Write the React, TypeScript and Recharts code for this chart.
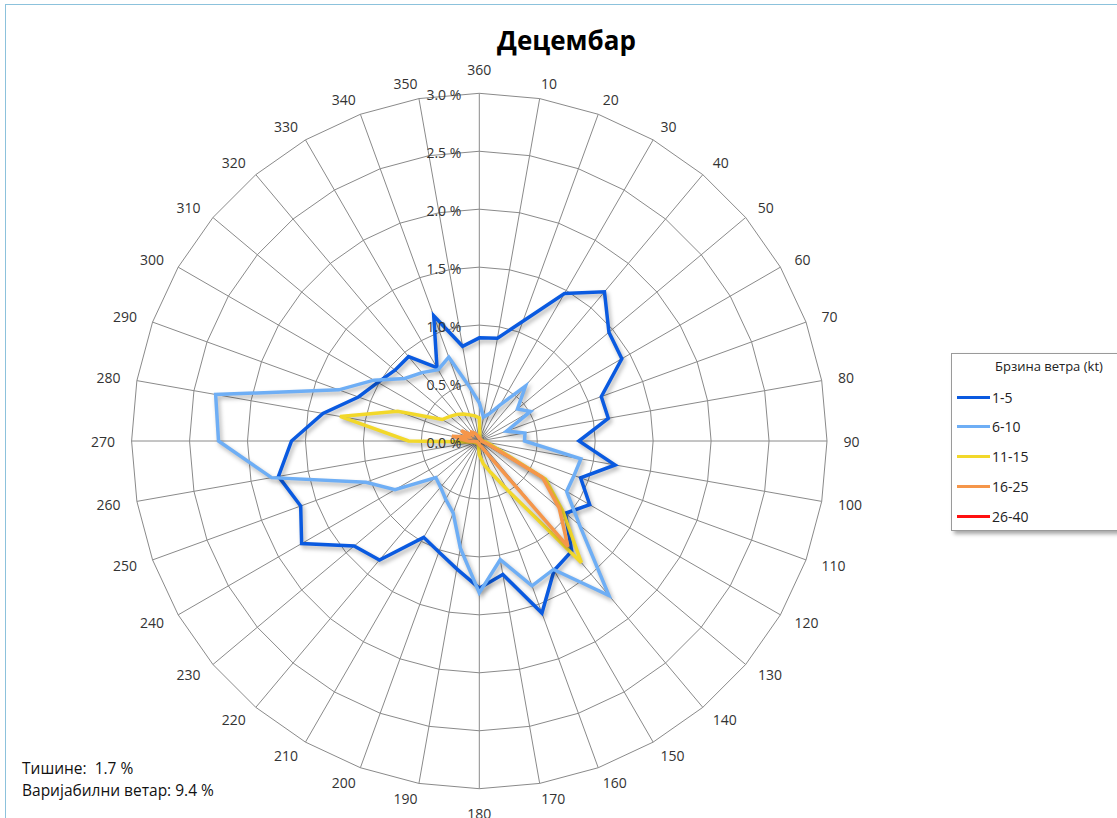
import React from "react";
import { RadarChart, Radar, PolarGrid, PolarAngleAxis, PolarRadiusAxis } from "recharts";

// wind directions, clockwise from north
const directions = [
  "360", "10", "20", "30", "40", "50", "60", "70", "80",
  "90", "100", "110", "120", "130", "140", "150", "160", "170",
  "180", "190", "200", "210", "220", "230", "240", "250", "260",
  "270", "280", "290", "300", "310", "320", "330", "340", "350",
];

// % of observations per direction for each speed class (kt)
const speed1to5 = [
  0.89, 0.9, 1.1, 1.47, 1.68, 1.46, 1.42, 1.12, 1.13,
  0.86, 1.19, 0.93, 1.1, 0.97, 1.24, 1.29, 1.58, 1.17,
  1.27, 1.12, 1.02, 0.96, 1.34, 1.41, 1.77, 1.64, 1.76,
  1.62, 1.37, 1.11, 1.01, 0.95, 0.95, 0.73, 1.15, 0.83,
];
const speed6to10 = [
  0.33, 0.21, 0.25, 0.36, 0.62, 0.43, 0.51, 0.25, 0.4,
  0.39, 0.89, 0.87, 0.87, 1.13, 1.74, 1.28, 1.33, 1.04,
  1.31, 0.94, 0.66, 0.58, 0.52, 0.49, 0.84, 1.04, 1.82,
  2.25, 2.31, 1.29, 1.05, 0.84, 0.77, 0.71, 0.77, 0.47,
];
const speed11to15 = [
  0.2, 0.03, 0.02, 0.02, 0.02, 0.02, 0.02, 0.02, 0.02,
  0.03, 0.06, 0.12, 0.66, 0.94, 1.37, 0.49, 0.29, 0.2,
  0.12, 0.04, 0.03, 0.03, 0.03, 0.03, 0.03, 0.04, 0.05,
  0.61, 1.22, 0.75, 0.37, 0.33, 0.3, 0.27, 0.24, 0.22,
];
const speed16to25 = [
  0.03, 0.02, 0.02, 0.02, 0.02, 0.02, 0.02, 0.02, 0.02,
  0.02, 0.03, 0.08, 0.63, 0.9, 1.19, 0.1, 0.05, 0.04,
  0.03, 0.02, 0.02, 0.02, 0.02, 0.02, 0.02, 0.02, 0.03,
  0.1, 0.24, 0.1, 0.18, 0.08, 0.1, 0.08, 0.05, 0.03,
];
const speed26to40 = [
  0, 0, 0, 0, 0, 0, 0, 0, 0,
  0, 0, 0, 0, 0, 0, 0, 0, 0,
  0, 0, 0, 0, 0, 0, 0, 0, 0,
  0, 0, 0, 0, 0, 0, 0, 0, 0,
];

const radiusTicks = [0, 0.5, 1, 1.5, 2, 2.5, 3];

const series = [
  { key: "s1", name: "1-5", color: "#0a5ae0", values: speed1to5 },
  { key: "s2", name: "6-10", color: "#6eaef5", values: speed6to10 },
  { key: "s3", name: "11-15", color: "#f2d82a", values: speed11to15 },
  { key: "s4", name: "16-25", color: "#f5964a", values: speed16to25 },
  { key: "s5", name: "26-40", color: "#ff1010", values: speed26to40 },
];

const data = directions.map((dir, i) => {
  const row: Record<string, any> = { dir };
  series.forEach((s) => (row[s.key] = s.values[i]));
  return row;
});

const CX = 479.3;
const CY = 441;
const OUTER = 347.7;
const FONT = "'Open Sans', 'Liberation Sans', sans-serif";

// category labels sit just outside the ring, pushed sideways like Excel does
function AngleTick(props: any) {
  const deg = 90 - props.payload.coordinate; // compass angle
  const a = (deg * Math.PI) / 180;
  const s = Math.sin(a);
  const c = Math.cos(a);
  const label = String(props.payload.value);
  const half = label.length * 4.1 - 2;
  const side = Math.abs(s) < 0.01 ? 0 : Math.sign(s);
  const x = CX + 366 * s + side * half;
  const y = side === 0 ? CY - 372 * Math.sign(c) : CY - 363 * c;
  return (
    <text x={x} y={y} textAnchor="middle" dominantBaseline="central" fontSize={14} fontFamily={FONT} fill="#333">
      {label}
    </text>
  );
}

function RadiusTick(props: any) {
  return (
    <text
      x={props.x - 18}
      y={props.y + 1}
      textAnchor="end"
      dominantBaseline="central"
      fontSize={14}
      fontFamily={FONT}
      fill="#333"
    >
      {Number(props.payload.value).toFixed(1)} %
    </text>
  );
}

export default function App() {
  return (
    <div style={{ position: "absolute", left: 0, top: 0, width: 1117, height: 818, background: "#fff", overflow: "hidden", fontFamily: FONT }}>
      <div style={{ position: "absolute", left: 5, top: 4, width: 1130, height: 830, border: "1px solid #8cc2dc" }} />

      <div style={{ position: "absolute", left: 0, top: 22, width: 1133, textAlign: "center", fontSize: 26, fontWeight: "bold", color: "#000" }}>
        Децембар
      </div>

      <RadarChart
        width={1117}
        height={818}
        data={data}
        cx={CX}
        cy={CY}
        outerRadius={OUTER}
        style={{ position: "absolute", left: 0, top: 0 }}
      >
        <PolarGrid gridType="polygon" stroke="#8a8a8a" strokeWidth={1} />
        <PolarAngleAxis dataKey="dir" tick={AngleTick} axisLine={false} tickLine={false} />
        <PolarRadiusAxis
          angle={90}
          domain={[0, 3]}
          ticks={radiusTicks}
          tickCount={7}
          axisLine={false}
          tickLine={false}
          tick={RadiusTick}
        />
        {series.map((s) => (
          <Radar
            key={s.key}
            name={s.name}
            dataKey={s.key}
            stroke={s.color}
            strokeWidth={3.5}
            strokeLinecap="butt"
            strokeLinejoin="miter"
            fill="none"
            fillOpacity={0}
            dot={false}
            isAnimationActive={false}
            style={{ filter: "drop-shadow(2px 3px 2px rgba(0,0,0,0.3))" }}
          />
        ))}
      </RadarChart>

      <div
        style={{
          position: "absolute",
          left: 951,
          top: 353,
          width: 180,
          height: 176,
          border: "1px solid #9a9a9a",
          background: "#fff",
          boxShadow: "3px 3px 4px rgba(0,0,0,0.35)",
        }}
      >
        <div style={{ position: "absolute", left: 43, top: 3, fontSize: 13, color: "#222" }}>Брзина ветра (kt)</div>
        {series.map((s, i) => (
          <div key={s.key} style={{ position: "absolute", left: 5, top: 33 + i * 29.8, height: 20, display: "flex", alignItems: "center" }}>
            <div style={{ width: 33, height: 3, background: s.color }} />
            <span style={{ fontSize: 14, color: "#222", marginLeft: 2 }}>{s.name}</span>
          </div>
        ))}
      </div>

      <div style={{ position: "absolute", left: 22, top: 757, fontSize: 15.5, color: "#111", lineHeight: "22px" }}>
        <div>Тишине:&nbsp; 1.7 %</div>
        <div>Варијабилни ветар: 9.4 %</div>
      </div>
    </div>
  );
}
